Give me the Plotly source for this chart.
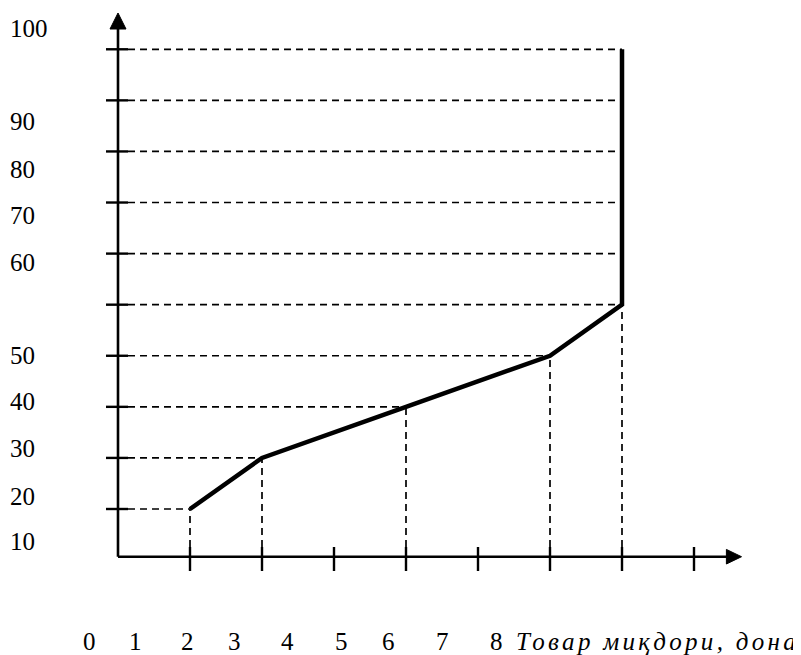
import plotly.graph_objects as go
import numpy as np

# ---- data (tick-index units on x, level units on y) ----
qty_idx = [1, 2, 4, 6, 7, 7]          # curve points along quantity axis (tick index)
price_lvl = [1, 2, 3, 4, 5, 10]        # curve points along price axis (grid level)

grid_levels = list(range(1, 11))       # horizontal dashed guide levels
x_ticks = list(range(1, 9))            # tick marks on the horizontal axis

y_labels = ["100", "90", "80", "70", "60", "50", "40", "30", "20", "10"]
y_label_pos = [10.40, 8.58, 7.65, 6.74, 5.83, 4.00, 3.10, 2.19, 1.25, 0.37]

x_labels = ["0", "1", "2", "3", "4", "5", "6", "7", "8"]
x_label_pos = [-0.40, 0.24, 0.97, 1.62, 2.36, 3.10, 3.75, 4.50, 5.26]
x_title = "Товар миқдори, дона"

# ---- geometry / style ----
OFF = 8.0       # page body margin offset
PX_X = 72.0     # px per x unit
PX_Y = 51.08    # px per y unit
X0_PX = 118.0 - OFF
Y0_PX = 560.08 - OFF
W, H = 801, 655
X_RANGE = [-X0_PX / PX_X, (W - X0_PX) / PX_X]
Y_RANGE = [(Y0_PX - H) / PX_Y, Y0_PX / PX_Y]

AXIS_Y = 0.066           # level where horizontal axis sits
Y_TIP, Y_BASE = 10.71, 10.397
X_TIP, X_BASE = 8.66, 8.45
FONT = "Liberation Serif"
DASH = "7px,5px"

fig = go.Figure()

shapes = []
line_solid = dict(color="black", width=2.6)
line_dash = dict(color="black", width=1.7, dash=DASH)

# horizontal dashed guides reaching the curve
reach = np.interp(grid_levels, price_lvl, qty_idx)
for lv, r in zip(grid_levels, reach):
    shapes.append(dict(type="line", xref="x", yref="y", x0=0.139, x1=float(r),
                       y0=lv, y1=lv, line=line_dash, layer="below"))
    shapes.append(dict(type="line", xref="x", yref="y", x0=-0.167, x1=0.139,
                       y0=lv, y1=lv, line=dict(color="black", width=2.4)))

# vertical dashed drops from curve corners
for xq, yl in zip(qty_idx[:5], price_lvl[:5]):
    shapes.append(dict(type="line", xref="x", yref="y", x0=xq, x1=xq,
                       y0=0.256, y1=yl, line=line_dash, layer="below"))

# x-axis tick marks
for t in x_ticks:
    shapes.append(dict(type="line", xref="x", yref="y", x0=t, x1=t,
                       y0=-0.214, y1=0.256, line=dict(color="black", width=2.4)))

# axes
shapes.append(dict(type="line", xref="x", yref="y", x0=0, x1=0, y0=AXIS_Y, y1=Y_BASE + 0.05,
                   line=line_solid))
shapes.append(dict(type="line", xref="x", yref="y", x0=0, x1=X_BASE + 0.05, y0=AXIS_Y, y1=AXIS_Y,
                   line=line_solid))
# arrow heads
hw = 8 / PX_X
hh = 7.3 / PX_Y
shapes.append(dict(type="path", xref="x", yref="y",
                   path=f"M {-hw},{Y_BASE} L 0,{Y_TIP} L {hw},{Y_BASE} Z",
                   fillcolor="black", line=dict(color="black", width=1)))
shapes.append(dict(type="path", xref="x", yref="y",
                   path=f"M {X_BASE},{AXIS_Y - hh} L {X_TIP},{AXIS_Y} L {X_BASE},{AXIS_Y + hh} Z",
                   fillcolor="black", line=dict(color="black", width=1)))

# curve
fig.add_trace(go.Scatter(x=qty_idx, y=price_lvl, mode="lines",
                         line=dict(color="black", width=4.5), hoverinfo="skip"))

annotations = []
for txt, yp in zip(y_labels, y_label_pos):
    annotations.append(dict(x=(8 - 118.0) / PX_X, y=yp, xref="x", yref="y", text=txt,
                            showarrow=False, xanchor="left", yanchor="middle",
                            font=dict(family=FONT, size=25, color="black")))
LBL_Y = (560.08 - 641.3) / PX_Y
for txt, xp in zip(x_labels, x_label_pos):
    annotations.append(dict(x=xp, y=LBL_Y, xref="x", yref="y", text=txt,
                            showarrow=False, xanchor="center", yanchor="middle",
                            font=dict(family=FONT, size=25, color="black")))
annotations.append(dict(x=5.496, y=LBL_Y, xref="x", yref="y",
                        text=f"<span style=\"letter-spacing:3.3px\"><i>{x_title}</i></span>",
                        showarrow=False, xanchor="left", yanchor="middle",
                        font=dict(family=FONT, size=25, color="black")))

fig.update_layout(
    width=W, height=H,
    margin=dict(l=0, r=0, t=0, b=0),
    paper_bgcolor="white", plot_bgcolor="white",
    showlegend=False,
    xaxis=dict(range=X_RANGE, visible=False, fixedrange=True),
    yaxis=dict(range=Y_RANGE, visible=False, fixedrange=True),
    shapes=shapes,
    annotations=annotations,
)

fig.write_html("out.html")
